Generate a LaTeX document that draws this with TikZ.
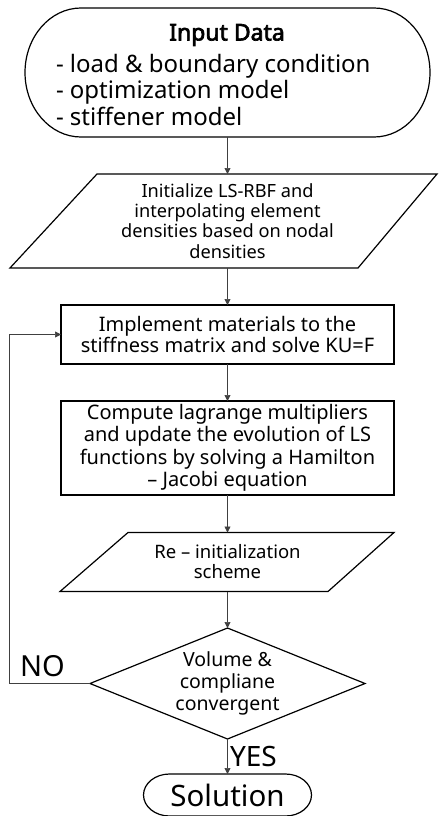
\documentclass[tikz,border=0pt]{standalone}
\usepackage{fontspec}
\setmainfont{Noto Sans}
\newfontfamily\titlefont{Noto Sans}[FakeBold=3]
\usetikzlibrary{arrows.meta,calc}
\begin{document}
\begin{tikzpicture}[x=1pt,y=-1pt,
  shapeline/.style={draw=black,line width=1.2pt},
  ghost/.style={draw=none,inner sep=0pt,outer sep=0pt,align=center,rectangle},
  arr/.style={draw=black!75,line width=0.7pt,-{Triangle[length=6pt,width=6pt]}}]
\useasboundingbox (0,0) rectangle (439,816);
% start terminator
\node[ghost,minimum width=405,minimum height=129] (start) at (227.5,72.5) {};
\draw[shapeline] ([xshift=56]start.north west) -- ([xshift=-56]start.north east)
  arc[start angle=-90,end angle=90,x radius=56,y radius=64.5]
  -- ([xshift=56]start.south west)
  arc[start angle=90,end angle=270,x radius=56,y radius=64.5] -- cycle;
\node[ghost,font=\titlefont\fontsize{23}{27}\selectfont] (title) at (227,35) {Input Data};
\node[ghost,anchor=west,align=left,font=\fontsize{24}{26.5}\selectfont] (list) at (56,89.5)
 {- load \& boundary condition\\- optimization model\\- stiffener model};
% parallelogram 1
\node[ghost,minimum width=340,minimum height=94,font=\fontsize{18.2}{20.3}\selectfont] (p1) at (227.5,221)
 {Initialize LS-RBF and\\interpolating element\\densities based on nodal\\densities};
\draw[shapeline] ([xshift=-130.5]p1.north) -- ([xshift=209.5]p1.north)
  -- ([xshift=130.5]p1.south) -- ([xshift=-217.5]p1.south) -- cycle;
% box 1
\node[ghost,shapeline,minimum width=333,minimum height=59,font=\fontsize{20}{20.8}\selectfont] (b1) at (227.5,334.5)
 {Implement materials to the\\stiffness matrix and solve KU=F};
% box 2
\node[ghost,shapeline,minimum width=333,minimum height=94,font=\fontsize{20}{22.5}\selectfont] (b2) at (227.5,448)
 {Compute lagrange multipliers\\and update the evolution of LS\\functions by solving a Hamilton\\– Jacobi equation};
% parallelogram 2
\node[ghost,minimum width=334,minimum height=59,font=\fontsize{18.5}{20}\selectfont] (p2) at (227.5,562)
 {Re – initialization\\scheme};
\draw[shapeline] ([xshift=-99.5]p2.north) -- ([xshift=166.5]p2.north)
  -- ([xshift=100.5]p2.south) -- ([xshift=-167.5]p2.south) -- cycle;
% diamond
\node[ghost,minimum width=275,minimum height=111,font=\fontsize{19.5}{22}\selectfont] (d) at (227.5,683.5)
 {Volume \&\\compliane\\convergent};
\draw[shapeline] (d.north) -- (d.east) -- (d.south) -- (d.west) -- cycle;
% solution
\node[ghost,minimum width=168,minimum height=42,font=\fontsize{29.5}{32}\selectfont] (sol) at (227.5,795)
 {Solution};
\draw[shapeline] ([xshift=26]sol.north west) -- ([xshift=-26]sol.north east)
  arc[start angle=-90,end angle=90,x radius=26,y radius=21]
  -- ([xshift=26]sol.south west)
  arc[start angle=90,end angle=270,x radius=26,y radius=21] -- cycle;
% labels
\node[ghost,font=\fontsize{29}{32}\selectfont] (no) at (42.5,666) {NO};
\node[ghost,anchor=west,font=\fontsize{28}{32}\selectfont] (yes) at (230,756) {YES};
% connectors
\draw[arr] (start.south) -- (p1.north);
\draw[arr] (p1.south) -- (b1.north);
\draw[arr] (b1.south) -- (b2.north);
\draw[arr] (b2.south) -- (p2.north);
\draw[arr] (p2.south) -- (d.north);
\draw[arr] (d.south) -- (sol.north);
\coordinate (loopc) at (9,683.5);
\draw[arr] (d.west) -- (loopc) |- (b1.west);
\end{tikzpicture}
\end{document}
